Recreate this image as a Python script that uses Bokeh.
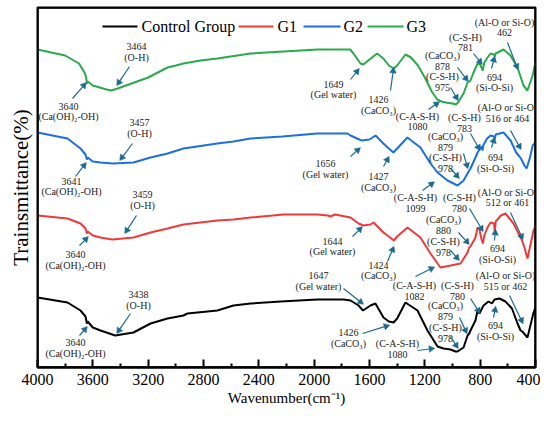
import math
from bokeh.plotting import figure
from bokeh.models import Range1d, Title, FixedTicker, Span
from bokeh.core.properties import value
from bokeh.embed import file_html
from bokeh.resources import INLINE

# ---------------- data (wavenumber cm-1, relative transmittance) ----------------
series_names = ["Control Group", "G1", "G2", "G3"]

ctrl_wn = [4000, 3783, 3689, 3653, 3643, 3637, 3600, 3545, 3438, 3306,
           3183, 3060, 2945, 2916, 2700, 2583, 2460, 2243, 1976, 1788,
           1737, 1679, 1647, 1593, 1557, 1499, 1460, 1426, 1400, 1340,
           1253, 1181, 1108, 1065, 1014, 978, 964, 920, 891, 879,
           870, 834, 819, 805, 776, 740, 715, 696, 660, 617,
           570, 530, 508, 495, 458, 414, 400]
ctrl_t = [70, 65, 57, 51, 44, 46, 40, 37, 32, 35,
          44, 49, 52, 54, 57, 62, 64, 66, 68, 68,
          67, 62, 57, 62, 64, 50, 46, 45, 49, 65,
          57, 37, 21, 19, 18, 16, 16, 20, 32, 34,
          37, 47, 57, 54, 62, 66, 64, 68, 69, 66,
          59, 44, 37, 36, 30, 55, 60]

g1_wn = [4000, 3783, 3689, 3653, 3643, 3637, 3600, 3545, 3459, 3306,
         3183, 3060, 2945, 2700, 2583, 2460, 2222, 1976, 1900, 1882,
         1850, 1737, 1679, 1644, 1593, 1571, 1499, 1460, 1424, 1400,
         1325, 1232, 1159, 1108, 1087, 1014, 978, 942, 891, 880,
         870, 834, 819, 805, 790, 780, 770, 747, 725, 700,
         694, 688, 650, 617, 559, 530, 512, 500, 480, 458,
         414, 400]
g1_t = [152, 149, 144, 139, 134, 136, 132, 130, 128, 130,
        135, 139, 143, 147, 148, 150, 153, 153, 152, 151,
        153, 150, 144, 142, 143, 145, 135, 131, 127, 131,
        140, 130, 114, 104, 100, 102, 103, 104, 115, 120,
        121, 130, 140, 138, 128, 124, 132, 140, 145, 144,
        135, 146, 152, 154, 144, 136, 131, 128, 120, 109,
        137, 142]

g2_wn = [4000, 3783, 3689, 3653, 3643, 3637, 3600, 3545, 3457, 3306,
         3183, 3060, 2945, 2700, 2583, 2460, 2230, 1976, 1760, 1737,
         1690, 1656, 1600, 1556, 1500, 1460, 1427, 1400, 1326, 1232,
         1159, 1108, 1099, 1036, 978, 963, 920, 879, 870, 834,
         819, 800, 787, 783, 778, 750, 725, 700, 694, 688,
         631, 580, 540, 516, 505, 480, 464, 440, 420, 400]
g2_t = [235, 229, 219, 213, 208, 210, 206, 205, 204, 205,
        210, 214, 219, 224, 226, 229, 231, 234, 234, 232,
        229, 227, 228, 232, 224, 219, 215, 219, 230, 220,
        204, 195, 194, 187, 183, 182, 187, 197, 199, 210,
        215, 219, 221, 217, 222, 229, 232, 231, 229, 233,
        235, 227, 215, 211, 209, 202, 199, 210, 222, 225]

g3_wn = [4000, 3800, 3700, 3660, 3650, 3642, 3636, 3600, 3500, 3464,
         3400, 3300, 3200, 3060, 3000, 2945, 2822, 2700, 2460, 2222,
         1976, 1740, 1716, 1665, 1645, 1600, 1545, 1500, 1460, 1426,
         1400, 1340, 1300, 1250, 1200, 1150, 1110, 1080, 1050, 1000,
         975, 960, 920, 891, 878, 870, 848, 819, 800, 781,
         770, 747, 725, 700, 694, 688, 631, 581, 530, 487,
         458, 421, 400]
g3_t = [318, 312, 304, 295, 291, 284, 286, 282, 278, 277,
        280, 285, 290, 300, 302, 304, 307, 309, 314, 316,
        318, 318, 314, 304, 303, 308, 314, 309, 302, 299,
        302, 313, 310, 302, 290, 276, 268, 266, 265, 264,
        263, 265, 274, 285, 286, 287, 295, 304, 303, 297,
        305, 310, 314, 313, 311, 314, 318, 312, 300, 282,
        277, 292, 305]

x_ticks = [4000, 3600, 3200, 2800, 2400, 2000, 1600, 1200, 800, 400]
x_minor = [3800, 3400, 3000, 2600, 2200, 1800, 1400, 1000, 600]

# annotation blocks: text, centre (image px)
ann_text = [
    "3464\n(O-H)", "3640\n(Ca(OH)\u2082-OH)", "1649\n(Gel water)", "1426\n(CaCO\u2083)",
    "(C-A-S-H)\n1080", "(CaCO\u2083)\n878\n(C-S-H)\n975", "(C-S-H)\n781",
    "(Al-O or Si-O)\n462", "694\n(Si-O-Si)",
    "3457\n(O-H)", "3641\n(Ca(OH)\u2082-OH)", "1656\n(Gel water)", "1427\n(CaCO\u2083)",
    "(C-A-S-H)\n1099", "(C-S-H)\n783", "(CaCO\u2083)\n879\n(C-S-H)\n978",
    "(Al-O or Si-O)\n516 or 464", "694\n(Si-O-Si)",
    "3459\n(O-H)", "3640\n(Ca(OH)\u2082-OH)", "1644\n(Gel water)", "1424\n(CaCO\u2083)",
    "(C-A-S-H)\n1082", "(C-S-H)\n780", "(CaCO\u2083)\n880\n(C-S-H)\n978",
    "(Al-O or Si-O)\n512 or 461", "694\n(Si-O-Si)",
    "3438\n(O-H)", "3640\n(Ca(OH)\u2082-OH)", "1647\n(Gel water)", "1426\n(CaCO\u2083)",
    "(C-A-S-H)\n1080", "(C-S-H)\n780", "(CaCO\u2083)\n879\n(C-S-H)\n978",
    "(Al-O or Si-O)\n515 or 462", "694\n(Si-O-Si)",
]
ann_px = [136, 68, 333, 378, 417, 442, 465, 504, 494,
          139, 71, 325, 378, 415, 464, 445, 507, 495,
          142, 75, 332, 378, 414, 459, 443, 507, 497,
          138, 75, 318, 348, 397, 457, 445, 505, 495]
ann_py = [51.5, 111, 89, 104.5, 121, 71, 42, 27, 82,
          127.5, 186, 168.5, 181.5, 202.5, 122.5, 152, 112.5, 162.5,
          199.5, 259.5, 246, 270, 290.5, 202.5, 235.5, 197, 253.5,
          299.5, 347.5, 280.5, 337.5, 348.5, 290.5, 321.5, 280.5, 330.5]

# arrows (image px): start x, start y, end x, end y
arr = [
    (72, 98, 85, 83), (129, 66, 117, 84), (350, 79, 358, 69), (390, 90, 393, 68),
    (428, 109, 438, 102), (457, 67, 467, 80), (450, 87, 457, 99), (473, 53, 481, 63),
    (507, 42, 517, 68), (491, 68, 494, 57),
    (75, 176, 85, 163), (132, 143, 120, 159), (350, 156, 359, 148), (383, 166, 388, 157),
    (422, 190, 433, 182), (470, 133, 479, 149), (463, 153, 467, 167), (450, 168, 458, 177),
    (510, 130, 520, 148), (491, 147, 494, 138),
    (79, 245, 87, 237), (136, 215, 125, 232), (352, 236, 361, 227), (387, 261, 393, 247),
    (415, 276, 433, 267), (469, 208, 482, 230), (458, 232, 468, 243), (450, 250, 458, 259),
    (510, 212, 522, 238), (494, 240, 495, 230),
    (79, 335, 86, 327), (130, 313, 117, 332), (343, 288, 362, 303), (362, 333, 388, 325),
    (417, 350, 433, 348), (470, 298, 479, 312), (459, 317, 466, 332), (450, 336, 457, 347),
    (509, 295, 522, 322), (493, 317, 495, 307),
]

# legend layout (image px): line start, line end, text start
leg_x0 = [102, 238, 303, 367]
leg_x1 = [137, 273, 340, 403]
leg_tx = [141, 277, 343, 406]
LEG_Y = 26

# ---------------- layout helpers ----------------
FL, FR, FT, FB = 37, 535, 7, 367
LINE_H = 10.8


def wx(px):
    return 4000 - (px - FL) * 3600.0 / (FR - FL)


def wy(py):
    return FB - py


SERIF = "Liberation Serif"
ARROW_C = "#1b6a8f"
colors = ["#000000", "#f03a3a", "#1c6fe3", "#2aaa4c"]

p = figure(width=540, height=412, output_backend="svg", toolbar_location=None,
           x_range=Range1d(4000, 400), y_range=Range1d(0, FB - FT),
           min_border_left=FL, min_border_right=5, min_border_top=FT, min_border_bottom=45)
p.outline_line_color = "black"
p.outline_line_width = 2
p.xgrid.visible = False
p.ygrid.visible = False
p.yaxis.visible = False

xa = p.xaxis[0]
xa.ticker = FixedTicker(ticks=x_ticks, minor_ticks=x_minor)
xa.axis_line_width = 2
xa.major_tick_in = 8
xa.major_tick_out = 0
xa.minor_tick_in = 4
xa.minor_tick_out = 0
xa.major_tick_line_width = 2
xa.minor_tick_line_width = 2
xa.major_label_text_font = SERIF
xa.major_label_text_font_size = "16px"
xa.major_label_text_color = "black"
xa.major_label_standoff = 6

p.add_layout(Title(text="Wavenumber(cm\u207b\u00b9)", align="center", standoff=0,
                   text_font=SERIF, text_font_size="15px", text_font_style="normal",
                   text_color="black"), "below")
p.add_layout(Title(text="Trainsmittance(%)", align="center", standoff=10,
                   text_font=SERIF, text_font_size="21px", text_font_style="normal",
                   text_color="black"), "left")

# frame edges
for loc, dim in ((4000, "height"), (400, "height"), (0, "width"), (FB - FT, "width")):
    p.add_layout(Span(location=loc, dimension=dim, line_color="black", line_width=2.5))

for wn, t, c in zip([ctrl_wn, g1_wn, g2_wn, g3_wn], [ctrl_t, g1_t, g2_t, g3_t], colors):
    p.line(wn, t, line_color=c, line_width=2)

# legend drawn with glyphs
p.segment([wx(v) for v in leg_x0], [wy(LEG_Y)] * 4, [wx(v) for v in leg_x1], [wy(LEG_Y)] * 4,
          line_color=colors, line_width=2)
p.text([wx(v) for v in leg_tx], [wy(LEG_Y)] * 4, text=series_names, text_font=value(SERIF),
       text_font_size="16px", text_align="left", text_baseline="middle", text_color="black")

# annotation text, one row per line
tx, ty, tt = [], [], []
for text, cx, cy in zip(ann_text, ann_px, ann_py):
    lines = text.split("\n")
    n = len(lines)
    for i, ln in enumerate(lines):
        tx.append(wx(cx))
        ty.append(wy(cy + (i - (n - 1) / 2.0) * LINE_H))
        tt.append(ln)
p.text(x=tx, y=ty, text=tt, text_font=value(SERIF), text_font_size="10px",
       text_align="center", text_baseline="middle", text_color="#222222")

# arrows: shaft + triangle head
HEAD = 5.0
sx0, sy0, sx1, sy1, hx, hy, ha = [], [], [], [], [], [], []
for (a0, b0, a1, b1) in arr:
    ang = math.atan2(-(b1 - b0), a1 - a0)
    L = math.hypot(a1 - a0, b1 - b0)
    ux, uy = (a1 - a0) / L, (b1 - b0) / L
    sx0.append(wx(a0)); sy0.append(wy(b0))
    sx1.append(wx(a1 - ux * HEAD * 0.8)); sy1.append(wy(b1 - uy * HEAD * 0.8))
    hx.append(wx(a1 - ux * HEAD * 0.5)); hy.append(wy(b1 - uy * HEAD * 0.5))
    ha.append(ang - math.pi / 2)
p.segment(sx0, sy0, sx1, sy1, line_color=ARROW_C, line_width=1.2)
p.scatter(hx, hy, marker="triangle", size=HEAD + 1.5, angle=ha,
          fill_color=ARROW_C, line_color=ARROW_C, line_width=0.5)

open("out.html", "w").write(file_html(p, INLINE))
